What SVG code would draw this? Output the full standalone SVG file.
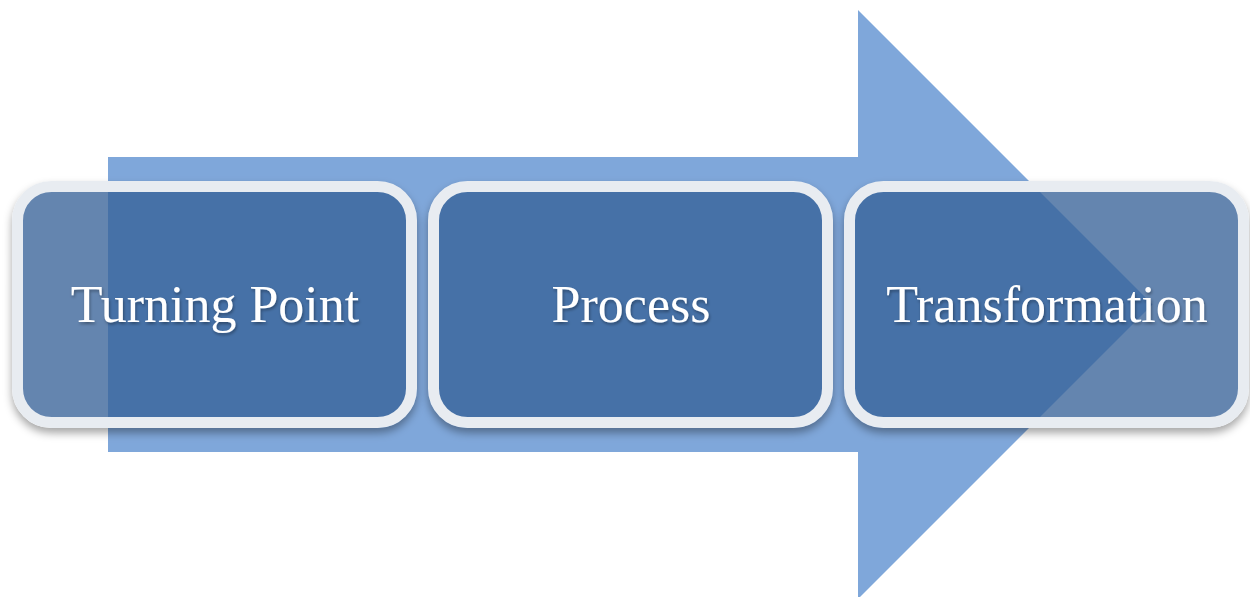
<svg xmlns="http://www.w3.org/2000/svg" width="1250" height="597" viewBox="0 0 1250 597">
  <defs>
    <filter id="shadowOnly" x="-10%" y="-10%" width="120%" height="130%">
      <feGaussianBlur in="SourceAlpha" stdDeviation="4" result="blur"/>
      <feOffset in="blur" dx="0" dy="5" result="off"/>
      <feFlood flood-color="#000" flood-opacity="0.35" result="col"/>
      <feComposite in="col" in2="off" operator="in" result="sh"/>
      <feComposite in="sh" in2="SourceAlpha" operator="out"/>
    </filter>
    <filter id="textShadow" x="-10%" y="-30%" width="120%" height="160%">
      <feDropShadow dx="1" dy="2" stdDeviation="1.5" flood-color="#000" flood-opacity="0.35"/>
    </filter>
  </defs>
  <style>
    .shadow { fill: #000; stroke: #000; stroke-width: 11; }
    .box { fill: rgb(53,96,151); fill-opacity: 0.77; stroke: #E8ECF1; stroke-width: 11; }
    .label { font-family: "Liberation Serif", "DejaVu Serif", serif; font-size: 52px; fill: #FFFFFF; text-anchor: middle; }
  </style>
  <rect width="1250" height="597" fill="#FFFFFF"/>
  <g id="arrow">
    <polygon points="108,157 858,157 858,10 1152.5,304.5 858,599 858,452 108,452" fill="#7FA7DA"/>
  </g>
  <g id="connectors"></g>
  <g id="node-turning-point">
    <rect class="shadow" x="17.5" y="186.5" width="394" height="236" rx="34" ry="34" filter="url(#shadowOnly)"/>
    <rect class="box" x="17.5" y="186.5" width="394" height="236" rx="34" ry="34"/>
    <text class="label" x="215" y="322" filter="url(#textShadow)">Turning Point</text>
  </g>
  <g id="node-process">
    <rect class="shadow" x="433.5" y="186.5" width="394" height="236" rx="34" ry="34" filter="url(#shadowOnly)"/>
    <rect class="box" x="433.5" y="186.5" width="394" height="236" rx="34" ry="34"/>
    <text class="label" x="631" y="322" filter="url(#textShadow)">Process</text>
  </g>
  <g id="node-transformation">
    <rect class="shadow" x="849.5" y="186.5" width="394" height="236" rx="34" ry="34" filter="url(#shadowOnly)"/>
    <rect class="box" x="849.5" y="186.5" width="394" height="236" rx="34" ry="34"/>
    <text class="label" x="1047" y="322" filter="url(#textShadow)">Transformation</text>
  </g>
</svg>
